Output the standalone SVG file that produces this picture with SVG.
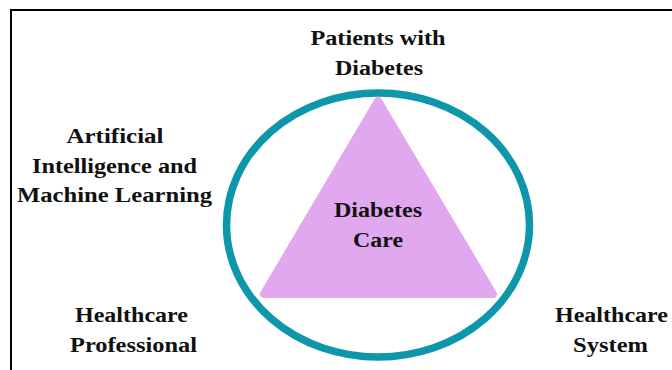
<svg xmlns="http://www.w3.org/2000/svg" width="672" height="370" viewBox="0 0 672 370">
<style>
.lbl{font-family:"Liberation Serif","Times New Roman",serif;font-weight:bold;font-size:20.5px;fill:#111;text-anchor:middle}
</style>
<rect width="672" height="370" fill="#fff"/>
<g id="frame" stroke="#000" stroke-width="2" fill="none">
<path d="M11 370 V10 H672"/>
</g>
<g id="ring">
<ellipse cx="378" cy="225" rx="151.5" ry="132" fill="none" stroke="#0E97AA" stroke-width="7.5"/>
</g>
<g id="care">
<polygon points="378,101 264,294 493,294" fill="#E1A8EF" stroke="#E1A8EF" stroke-width="8" stroke-linejoin="round"/>
<text class="lbl" x="378" y="217" textLength="88" lengthAdjust="spacingAndGlyphs">Diabetes</text>
<text class="lbl" x="378" y="247" textLength="50" lengthAdjust="spacingAndGlyphs">Care</text>
</g>
<g id="patients">
<text class="lbl" x="378" y="45" textLength="135" lengthAdjust="spacingAndGlyphs">Patients with</text>
<text class="lbl" x="379" y="75" textLength="88" lengthAdjust="spacingAndGlyphs">Diabetes</text>
</g>
<g id="ai">
<text class="lbl" x="115" y="143" textLength="97" lengthAdjust="spacingAndGlyphs">Artificial</text>
<text class="lbl" x="114.5" y="173" textLength="165" lengthAdjust="spacingAndGlyphs">Intelligence and</text>
<text class="lbl" x="114.5" y="202" textLength="195" lengthAdjust="spacingAndGlyphs">Machine Learning</text>
</g>
<g id="professional">
<text class="lbl" x="131.5" y="322" textLength="113" lengthAdjust="spacingAndGlyphs">Healthcare</text>
<text class="lbl" x="133.5" y="352" textLength="127" lengthAdjust="spacingAndGlyphs">Professional</text>
</g>
<g id="system">
<text class="lbl" x="611.5" y="322" textLength="113" lengthAdjust="spacingAndGlyphs">Healthcare</text>
<text class="lbl" x="610.5" y="352" textLength="75" lengthAdjust="spacingAndGlyphs">System</text>
</g>
<g id="connectors"></g>
</svg>
